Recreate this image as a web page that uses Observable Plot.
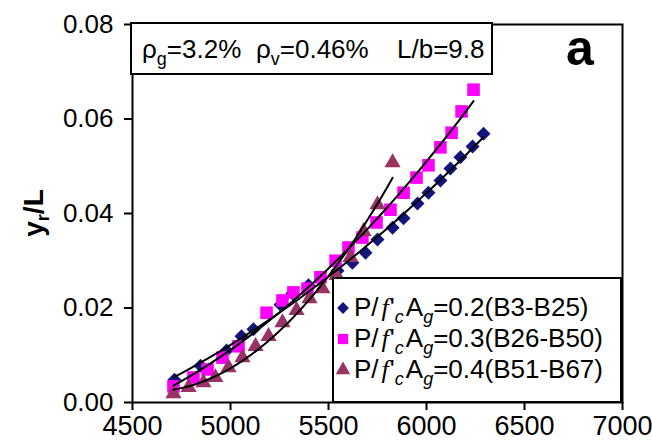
<!DOCTYPE html>
<html><head><meta charset="utf-8">
<script src="https://cdn.jsdelivr.net/npm/d3@7"></script>
<script src="https://cdn.jsdelivr.net/npm/@observablehq/plot@0.6"></script>
<style>html,body{margin:0;padding:0;background:#fff;} svg{display:block}</style>
</head><body><div id="chart"></div>
<script>
// ---- data ----
const xTicks = [4500, 5000, 5500, 6000, 6500, 7000];
const yTicks = [0, 0.02, 0.04, 0.06, 0.08];
const seriesNames = ["0.2(B3-B25)", "0.3(B26-B50)", "0.4(B51-B67)"];
const seriesColors = ["#12157c", "#ff00ff", "#993366"];
const seriesSymbols = ["diamond2", "square", "triangle"];

const blueX = [4714,4847,4980,5056,5117,5255,5316,5398,5546,5622,5689,5750,5827,5883,5954,6010,6071,6122,6173,6235,6291];
const blueY = [0.0048,0.0078,0.011,0.014,0.0155,0.0207,0.0231,0.0248,0.0279,0.0296,0.0317,0.0345,0.037,0.039,0.0421,0.0444,0.047,0.0495,0.0519,0.0542,0.0569];

const pinkX = [4709,4811,4883,4959,5041,5184,5265,5321,5393,5459,5536,5602,5673,5745,5816,5883,5949,6010,6071,6128,6179,6240];
const pinkY = [0.0034,0.0053,0.007,0.0095,0.0119,0.019,0.0216,0.0233,0.0241,0.0265,0.030,0.0328,0.0349,0.0381,0.0408,0.0444,0.0476,0.0502,0.054,0.0571,0.0616,0.0662];

const triX = [4709,4786,4862,4923,4990,5061,5128,5194,5265,5337,5403,5469,5541,5612,5679,5750,5827];
const triY = [0.0019,0.0032,0.0042,0.0053,0.0074,0.0095,0.0119,0.014,0.0169,0.0195,0.022,0.0241,0.0269,0.0307,0.0362,0.0419,0.0508];

// ---- build tables ----
const seriesX = [blueX, pinkX, triX];
const seriesY = [blueY, pinkY, triY];
const points = [];
seriesX.forEach((xs, i) => xs.forEach((x, j) => points.push({s: i, x, y: seriesY[i][j]})));

// quadratic least-squares trend line of each series
function polyfit(xs, ys, deg) {
  const x0 = d3.mean(xs), sc = 1000;
  const n = deg + 1;
  const A = Array.from({length: n}, () => new Array(n).fill(0));
  const b = new Array(n).fill(0);
  xs.forEach((x, k) => {
    const t = (x - x0) / sc;
    for (let i = 0; i < n; i++) {
      b[i] += ys[k] * t ** i;
      for (let j = 0; j < n; j++) A[i][j] += t ** (i + j);
    }
  });
  for (let i = 0; i < n; i++) {
    let p = i;
    for (let r = i + 1; r < n; r++) if (Math.abs(A[r][i]) > Math.abs(A[p][i])) p = r;
    [A[i], A[p]] = [A[p], A[i]]; [b[i], b[p]] = [b[p], b[i]];
    for (let r = i + 1; r < n; r++) {
      const f = A[r][i] / A[i][i];
      for (let c = i; c < n; c++) A[r][c] -= f * A[i][c];
      b[r] -= f * b[i];
    }
  }
  const c = new Array(n).fill(0);
  for (let i = n - 1; i >= 0; i--) {
    let s = b[i];
    for (let j = i + 1; j < n; j++) s -= A[i][j] * c[j];
    c[i] = s / A[i][i];
  }
  return x => { const t = (x - x0) / sc; return c.reduce((acc, ci, i) => acc + ci * t ** i, 0); };
}
const fitLines = [];
seriesX.forEach((xs, i) => {
  const f = polyfit(xs, seriesY[i], 2);
  const [lo, hi] = d3.extent(xs);
  d3.range(0, 41).forEach(k => { const x = lo + (hi - lo) * k / 40; fitLines.push({s: i, x, y: f(x)}); });
});

const FONT = "'Liberation Sans', Arial, sans-serif";

const chart = Plot.plot({
  width: 652, height: 446,
  marginLeft: 132, marginRight: 30, marginTop: 24, marginBottom: 44,
  style: {fontFamily: FONT, fontSize: "26px", background: "white", color: "black"},
  x: {domain: [4500, 7000]},
  y: {domain: [0, 0.08]},
  marks: [
    Plot.dot(points.filter(d => d.s === 0), {x: "x", y: "y", symbol: () => seriesSymbols[0], r: 6.3, fill: seriesColors[0], stroke: "none"}),
    Plot.dot(points.filter(d => d.s === 1), {x: "x", y: "y", symbol: () => seriesSymbols[1], r: 7.1, fill: seriesColors[1], stroke: "none"}),
    Plot.dot(points.filter(d => d.s === 2), {x: "x", y: "y", symbol: () => seriesSymbols[2], r: 6.0, fill: seriesColors[2], stroke: "none"}),
    Plot.line(fitLines, {x: "x", y: "y", z: "s", stroke: "black", strokeWidth: 2}),
    Plot.frame({stroke: "black", strokeWidth: 2}),
    Plot.axisX({ticks: xTicks, tickSize: 8, tickPadding: 5, strokeWidth: 2, label: null, fontSize: 27, tickFormat: d => String(d)}),
    Plot.axisY({ticks: yTicks, tickSize: 8, tickPadding: 11, strokeWidth: 2, label: null, fontSize: 26, tickFormat: d => d.toFixed(2)})
  ]
});
document.getElementById("chart").appendChild(chart);

const svg = d3.select(chart);
const g = svg.append("g").attr("font-family", FONT).attr("fill", "black").attr("text-anchor", "start");

// y-axis title
const yl = g.append("text").attr("transform", "translate(43,213) rotate(-90)")
  .attr("text-anchor", "middle").attr("font-size", 28).attr("font-weight", "bold");
yl.append("tspan").text("y");
yl.append("tspan").attr("font-size", 18).attr("dy", 6).text("r");
yl.append("tspan").attr("dy", -6).text("/L");

// parameter box
g.append("rect").attr("x", 131).attr("y", 23).attr("width", 361).attr("height", 51)
  .attr("fill", "white").attr("stroke", "black").attr("stroke-width", 2);
function sub(t, main, s) {
  t.append("tspan").text(main);
  t.append("tspan").attr("font-size", 18).attr("dy", 7).text(s);
}
const t1 = g.append("text").attr("x", 142).attr("y", 58).attr("font-size", 26).attr("text-anchor", "start");
sub(t1, "\u03c1", "g"); t1.append("tspan").attr("dy", -7).text("=3.2%");
const t2 = g.append("text").attr("x", 256).attr("y", 58).attr("font-size", 26).attr("text-anchor", "start");
sub(t2, "\u03c1", "v"); t2.append("tspan").attr("dy", -7).text("=0.46%");
g.append("text").attr("x", 397).attr("y", 58).attr("font-size", 26).attr("text-anchor", "start").text("L/b=9.8");
g.append("text").attr("x", 580).attr("y", 65).attr("font-size", 50).attr("font-weight", "bold")
  .attr("text-anchor", "middle").text("a");

// legend
g.append("rect").attr("x", 333).attr("y", 278).attr("width", 288).attr("height", 124)
  .attr("fill", "white").attr("stroke", "black").attr("stroke-width", 2);
const legSizes = [Math.PI * 5.3 * 5.3, Math.PI * 5.8 * 5.8, Math.PI * 5.4 * 5.4];
const legSym = [d3.symbolDiamond2, d3.symbolSquare, d3.symbolTriangle];
seriesNames.forEach((name, i) => {
  const yb = 316 + i * 31;
  g.append("path").attr("d", d3.symbol(legSym[i], legSizes[i])())
    .attr("transform", `translate(343,${yb - 8})`).attr("fill", seriesColors[i]);
  const t = g.append("text").attr("x", 354).attr("y", yb).attr("font-size", 26).attr("text-anchor", "start");
  t.append("tspan").text("P/");
  t.append("tspan").attr("dx", 3).attr("font-family", "'Liberation Serif', serif").attr("font-style", "italic").text("f");
  t.append("tspan").attr("dx", 1).text("'");
  t.append("tspan").attr("font-style", "italic").attr("font-size", 18).attr("dy", 7).text("c");
  t.append("tspan").attr("dx", 2).attr("dy", -7).text("A");
  t.append("tspan").attr("font-style", "italic").attr("font-size", 18).attr("dy", 7).text("g");
  t.append("tspan").attr("dy", -7).text("=" + name);
});
</script>
</body></html>
